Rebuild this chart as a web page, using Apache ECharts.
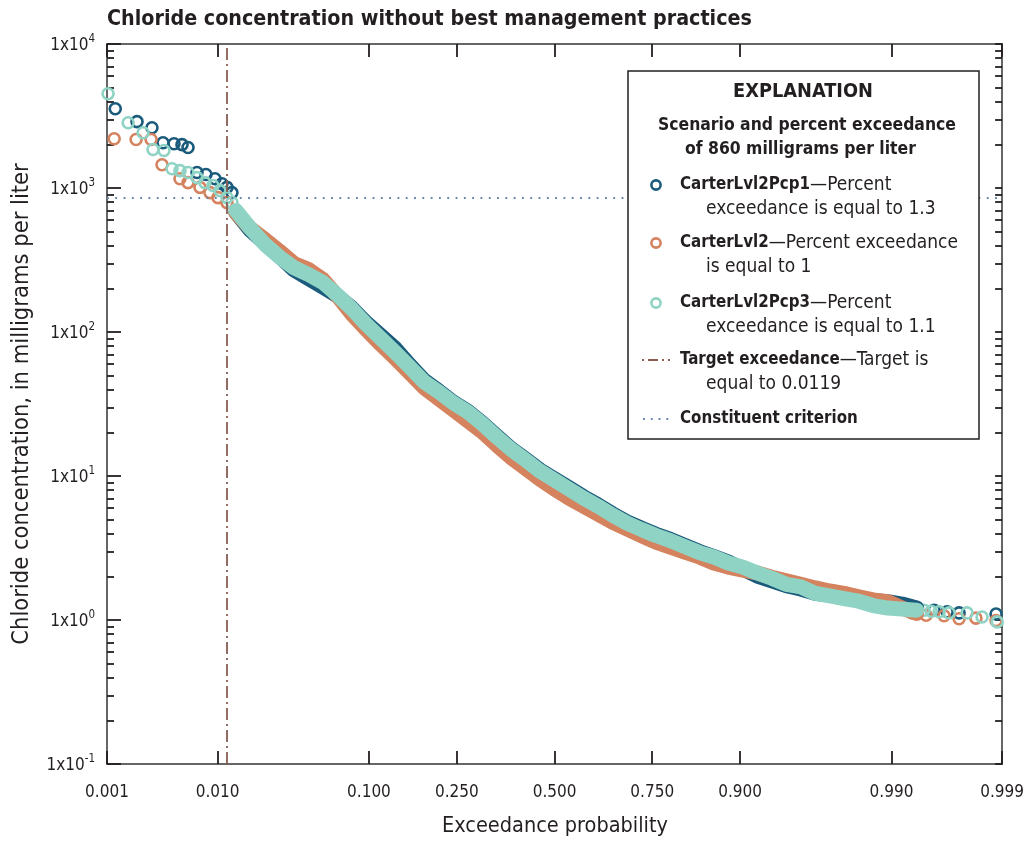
<!DOCTYPE html>
<html><head><meta charset="utf-8">
<script src="https://cdn.jsdelivr.net/npm/echarts@6.0.0/dist/echarts.min.js"></script>
<style>html,body{margin:0;padding:0;background:#fff}#c{width:1027px;height:843px}</style>
</head><body><div id="c"></div>
<script>
// ---------------- data ----------------
const xTickProbs  = [0.001, 0.01, 0.1, 0.25, 0.5, 0.75, 0.9, 0.99, 0.999];
const xTickLabels = ['0.001','0.010','0.100','0.250','0.500','0.750','0.900','0.990','0.999'];
const yTickExps   = [-1, 0, 1, 2, 3, 4];

const criterion = 860;      // milligrams per liter
const targetExceed = 0.0119;

// dense central part of each curve (exceedance probability, concentration)
const bodyProb = [0.0139,0.0179,0.0228,0.0287,0.0359,0.0446,0.0548,0.0668,0.0808,0.0968,0.1151,0.1357,0.1587,0.1841,0.2119,0.2420,0.2743,0.3085,0.3446,0.3821,0.4207,0.4602,0.5,0.5398,0.5793,0.6179,0.6554,0.6915,0.7257,0.7580,0.7881,0.8159,0.8413,0.8643,0.8849,0.9032,0.9192,0.9332,0.9452,0.9554,0.9641,0.9713,0.9772,0.9821,0.9861,0.9893,0.9918,0.9938];
const pcp1Body = [675,507,412,337,270,235,205,178,147,116,94.7,76.9,59.0,46.2,39.0,32.6,28.2,23.4,19.0,15.5,13.1,11.0,9.55,8.30,7.18,6.30,5.47,4.81,4.34,3.94,3.63,3.30,2.99,2.76,2.53,2.26,2.02,1.87,1.73,1.64,1.53,1.49,1.45,1.41,1.36,1.34,1.29,1.21];
const lvl2Body = [675,523,439,365,300,272,232,178,133,104,82.0,65.6,52.0,41.0,34.3,28.9,24.2,20.3,16.4,13.4,11.3,9.50,8.10,7.02,6.17,5.43,4.78,4.29,3.85,3.47,3.20,2.96,2.74,2.49,2.33,2.22,2.12,1.98,1.87,1.77,1.67,1.59,1.53,1.45,1.38,1.34,1.21,1.11];
const pcp3Body = [697,523,405,332,280,251,221,181,145,113,90.2,72.1,57.2,45.0,38.4,32.2,27.9,23.1,18.7,15.3,12.9,10.8,9.35,8.11,7.02,6.17,5.35,4.71,4.25,3.86,3.56,3.23,2.94,2.74,2.49,2.33,2.12,1.95,1.77,1.70,1.53,1.47,1.41,1.35,1.26,1.21,1.19,1.17];

// sparse tails (individual circles)
const pcp1TailP = [0.00121,0.00197,0.00272,0.00343,0.0043,0.00505,0.00569,0.00678,0.00804,0.00952,0.01082,0.01185,0.01295,0.99348,0.99561,0.99664,0.99739,0.99885];
const pcp1TailC = [3550,2890,2620,2060,2030,2000,1910,1280,1240,1160,1070,1010,929,1.23,1.17,1.14,1.12,1.10];
const lvl2TailP = [0.00118,0.00193,0.00267,0.00336,0.00485,0.00569,0.00718,0.00867,0.01006,0.01185,0.99322,0.99485,0.99642,0.99739,0.99819,0.99885];
const lvl2TailC = [2200,2170,2170,1450,1160,1090,1010,929,858,792,1.12,1.08,1.07,1.02,1.03,0.99];
const pcp3TailP = [0.001025,0.00162,0.00225,0.00278,0.0035,0.00413,0.00485,0.00569,0.00678,0.00789,0.00917,0.01044,0.01185,0.01295,0.99464,0.99534,0.99604,0.99678,0.9978,0.99842,0.99888];
const pcp3TailC = [4510,2840,2420,1850,1820,1360,1320,1280,1180,1090,1040,959,858,792,1.17,1.15,1.14,1.12,1.12,1.05,0.97];

const seriesNames = ['CarterLvl2Pcp1', 'CarterLvl2', 'CarterLvl2Pcp3'];
const seriesNote1 = ['\u2014Percent', '\u2014Percent exceedance', '\u2014Percent'];
const seriesNote2 = ['exceedance is equal to 1.3', 'is equal to 1', 'exceedance is equal to 1.1'];

// ---------------- helpers ----------------
function probit(p){
  const a=[-3.969683028665376e+01,2.209460984245205e+02,-2.759285104469687e+02,1.383577518672690e+02,-3.066479806614716e+01,2.506628277459239e+00];
  const b=[-5.447609879822406e+01,1.615858368580409e+02,-1.556989798598866e+02,6.680131188771972e+01,-1.328068155288572e+01];
  const c=[-7.784894002430293e-03,-3.223964580411365e-01,-2.400758277161838e+00,-2.549732539343734e+00,4.374664141464968e+00,2.938163982698783e+00];
  const d=[7.784695709041462e-03,3.224671290700398e-01,2.445134137142996e+00,3.754408661907416e+00];
  const pl=0.02425, ph=1-pl; let q,r;
  if(p<pl){q=Math.sqrt(-2*Math.log(p));return (((((c[0]*q+c[1])*q+c[2])*q+c[3])*q+c[4])*q+c[5])/((((d[0]*q+d[1])*q+d[2])*q+d[3])*q+1);}
  if(p<=ph){q=p-0.5;r=q*q;return (((((a[0]*r+a[1])*r+a[2])*r+a[3])*r+a[4])*r+a[5])*q/(((((b[0]*r+b[1])*r+b[2])*r+b[3])*r+b[4])*r+1);}
  q=Math.sqrt(-2*Math.log(1-p));return -(((((c[0]*q+c[1])*q+c[2])*q+c[3])*q+c[4])*q+c[5])/((((d[0]*q+d[1])*q+d[2])*q+d[3])*q+1);
}
const FONT = '"DejaVu Sans Condensed","Liberation Sans Narrow",sans-serif';
const COLORS = ['#1a5b7c', '#d5835f', '#8fd3c4'];
const INK = '#231f20';
const xTickZ = xTickProbs.map(probit);
const zMin = probit(0.001), zMax = probit(0.999);
const yMajor = yTickExps.map(e => Math.pow(10, e));
const yMinor = [];
for (let e = -1; e < 4; e++) for (let m = 2; m <= 9; m++) yMinor.push(+(m * Math.pow(10, e)).toPrecision(3));
const yAll = yMajor.concat(yMinor);

const axisLineStyle = {color: '#333', width: 1.5};
const tickStyle = {color: INK, width: 1.8};

function body(i, vals){
  return {
    type: 'line', name: seriesNames[i], xAxisIndex: 0, yAxisIndex: 0,
    data: bodyProb.map((p, k) => [probit(p), vals[k]]),
    showSymbol: false, symbol: 'none',
    lineStyle: {color: COLORS[i], width: 15, cap: 'round', join: 'round'},
    silent: true, animation: false, emphasis: {disabled: true}
  };
}
function tail(i, P, C){
  return {
    type: 'scatter', name: seriesNames[i], xAxisIndex: 0, yAxisIndex: 0,
    data: P.map((p, k) => [probit(p), C[k]]),
    symbol: 'circle', symbolSize: 11,
    itemStyle: {color: 'rgba(0,0,0,0)', borderColor: COLORS[i], borderWidth: 2.6, opacity: 1},
    silent: true, animation: false, emphasis: {disabled: true}
  };
}

const series = [
  body(0, pcp1Body), tail(0, pcp1TailP, pcp1TailC),
  body(1, lvl2Body), tail(1, lvl2TailP, lvl2TailC),
  body(2, pcp3Body), tail(2, pcp3TailP, pcp3TailC)
];
series[5].markLine = {
  silent: true, symbol: ['none', 'none'], label: {show: false}, animation: false,
  data: [
    {yAxis: criterion, lineStyle: {type: [1.8, 6.5], color: '#5f84ad', width: 1.8}},
    {xAxis: probit(targetExceed), lineStyle: {type: [12, 4, 2, 4], color: '#8a5d52', width: 1.8}}
  ]
};

// ---------------- legend / titles (graphic) ----------------
const graphics = [];
graphics.push({type: 'text', x: 107, y: 19, z: 100, style: {text: 'Chloride concentration without best management practices', fill: INK, font: 'bold 21.3px ' + FONT, verticalAlign: 'middle'}});
graphics.push({type: 'text', x: 22, y: 404, rotation: Math.PI / 2, z: 100, style: {text: 'Chloride concentration, in milligrams per liter', fill: INK, font: '23.5px ' + FONT, align: 'center', verticalAlign: 'middle'}});
graphics.push({type: 'text', x: 555, y: 826, z: 100, style: {text: 'Exceedance probability', fill: INK, font: '21.5px ' + FONT, align: 'center', verticalAlign: 'middle'}});
graphics.push({type: 'rect', z: 100, shape: {x: 628, y: 71, width: 351, height: 368}, style: {fill: '#fff', stroke: INK, lineWidth: 1.5}});
graphics.push({type: 'text', x: 803, y: 92, z: 101, style: {text: 'EXPLANATION', fill: INK, font: 'bold 19.8px ' + FONT, align: 'center', verticalAlign: 'middle'}});
graphics.push({type: 'text', x: 658, y: 125, z: 101, style: {text: 'Scenario and percent exceedance', fill: INK, font: 'bold 17.4px ' + FONT, verticalAlign: 'middle'}});
graphics.push({type: 'text', x: 685, y: 149, z: 101, style: {text: 'of ' + criterion + ' milligrams per liter', fill: INK, font: 'bold 17.4px ' + FONT, verticalAlign: 'middle'}});
const rich = {
  b: {fontWeight: 'bold', fontSize: 16.8, fontFamily: FONT, fill: INK},
  r: {fontSize: 19, fontFamily: FONT, fill: INK}
};
const itemY = [185, 243, 303];
for (let i = 0; i < 3; i++) {
  graphics.push({type: 'circle', z: 101, shape: {cx: 656, cy: itemY[i], r: 4.6}, style: {fill: 'none', stroke: COLORS[i], lineWidth: 2.6}});
  graphics.push({type: 'text', x: 680, y: itemY[i], z: 101, style: {text: '{b|' + seriesNames[i] + '}{r|' + seriesNote1[i] + '}', rich: rich, verticalAlign: 'middle'}});
  graphics.push({type: 'text', x: 706, y: itemY[i] + 24, z: 101, style: {text: seriesNote2[i], fill: INK, font: '19px ' + FONT, verticalAlign: 'middle'}});
}
graphics.push({type: 'line', z: 101, shape: {x1: 642, y1: 360, x2: 670, y2: 360}, style: {stroke: '#8a5d52', lineWidth: 1.8, lineDash: [2, 4, 10, 4]}});
graphics.push({type: 'text', x: 680, y: 360, z: 101, style: {text: '{b|Target exceedance}{r|\u2014Target is}', rich: rich, verticalAlign: 'middle'}});
graphics.push({type: 'text', x: 706, y: 384, z: 101, style: {text: 'equal to ' + targetExceed, fill: INK, font: '19px ' + FONT, verticalAlign: 'middle'}});
graphics.push({type: 'line', z: 101, shape: {x1: 643, y1: 419, x2: 670, y2: 419}, style: {stroke: '#5f84ad', lineWidth: 1.8, lineDash: [1.8, 6]}});
graphics.push({type: 'text', x: 680, y: 419, z: 101, style: {text: '{b|Constituent criterion}', rich: rich, verticalAlign: 'middle'}});

// ---------------- chart ----------------
const chart = echarts.init(document.getElementById('c'), null, {renderer: 'canvas'});
const gridRect = {left: 107, right: 23, top: 44, bottom: 79, containLabel: false};
chart.setOption({
  animation: false,
  backgroundColor: '#fff',
  grid: [Object.assign({}, gridRect), Object.assign({}, gridRect)],
  xAxis: [
    {type: 'value', gridIndex: 0, position: 'bottom', min: zMin, max: zMax,
     axisLine: {show: true, onZero: false, lineStyle: axisLineStyle},
     axisTick: {show: true, inside: true, length: 13, customValues: xTickZ, lineStyle: tickStyle},
     axisLabel: {show: true, customValues: xTickZ, margin: 20, color: INK, fontSize: 17, fontFamily: FONT,
       formatter: v => { let best = 0; xTickZ.forEach((z, k) => { if (Math.abs(z - v) < Math.abs(xTickZ[best] - v)) best = k; }); return xTickLabels[best]; }},
     splitLine: {show: false}},
    {type: 'value', gridIndex: 0, position: 'top', min: zMin, max: zMax,
     axisLine: {show: true, onZero: false, lineStyle: axisLineStyle},
     axisTick: {show: true, inside: true, length: 13, customValues: xTickZ, lineStyle: tickStyle},
     axisLabel: {show: false}, splitLine: {show: false}},
    {type: 'value', gridIndex: 1, min: zMin, max: zMax, show: false}
  ],
  yAxis: [
    {type: 'log', logBase: 10, gridIndex: 0, position: 'left', min: 0.1, max: 10000,
     axisLine: {show: true, onZero: false, lineStyle: axisLineStyle},
     axisTick: {show: true, inside: true, length: 14, customValues: yMajor, lineStyle: tickStyle},
     axisLabel: {show: true, customValues: yMajor, margin: 12,
       formatter: v => '{b|1x10}{s|' + Math.round(Math.log10(v)) + '}',
       rich: {
         b: {fontSize: 17, fontFamily: FONT, color: INK, lineHeight: 21, verticalAlign: 'bottom'},
         s: {fontSize: 11.5, fontFamily: FONT, color: INK, lineHeight: 12, verticalAlign: 'top'}
       }},
     splitLine: {show: false}, minorTick: {show: false}},
    {type: 'log', logBase: 10, gridIndex: 0, position: 'right', min: 0.1, max: 10000,
     axisLine: {show: true, onZero: false, lineStyle: axisLineStyle},
     axisTick: {show: true, inside: true, length: 7, customValues: yAll, lineStyle: tickStyle},
     axisLabel: {show: false}, splitLine: {show: false}},
    {type: 'log', logBase: 10, gridIndex: 1, position: 'left', min: 0.1, max: 10000,
     axisLine: {show: false, onZero: false},
     axisTick: {show: true, inside: true, length: 7, customValues: yMinor, lineStyle: tickStyle},
     axisLabel: {show: false}, splitLine: {show: false}}
  ],
  series: series,
  graphic: graphics
});
</script></body></html>
